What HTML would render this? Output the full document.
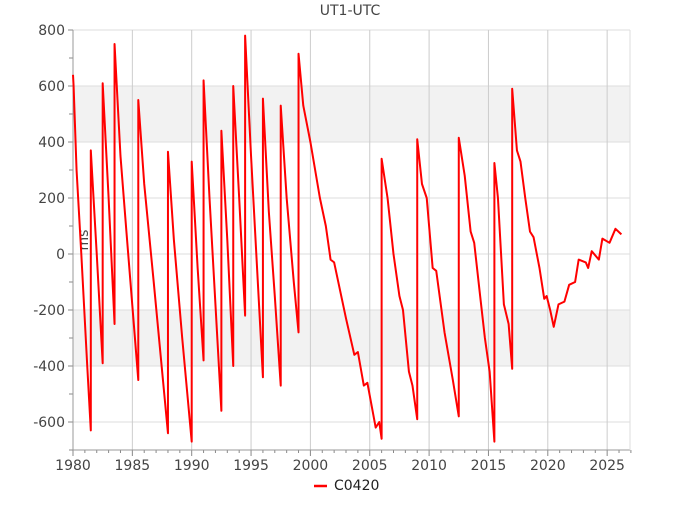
<!DOCTYPE html>
<html><head><meta charset="utf-8"><style>
body{margin:0;background:#fff;}
svg{font-family:"DejaVu Sans","Liberation Sans",sans-serif;}
</style></head><body>
<svg id="chart" width="700" height="500">
<text x="350" y="15" text-anchor="middle" font-size="14" fill="#444">UT1-UTC</text>
<g id="bands"></g><g id="grid"></g><g id="axes"></g>
<text transform="translate(88,240) rotate(-90)" text-anchor="middle" font-size="14" fill="#444">ms</text>
<g id="series"></g>
<g>
<line x1="314" y1="486" x2="327" y2="486" stroke="#f00" stroke-width="2.5"/>
<text x="334" y="490" font-size="14" fill="#222">C0420</text>
</g>
</svg>
<script>
const years=[1980.0,1980.05,1980.3,1980.7,1981.2,1981.5,1981.5,1982.0,1982.5,1982.5,1983.0,1983.5,1983.5,1984.0,1984.5,1985.5,1985.5,1986.0,1986.8,1988.0,1988.0,1988.5,1989.2,1990.0,1990.0,1990.5,1991.0,1991.0,1991.5,1992.5,1992.5,1993.0,1993.5,1993.5,1994.0,1994.5,1994.5,1995.0,1996.0,1996.0,1996.5,1997.0,1997.5,1997.5,1998.0,1998.6,1999.0,1999.0,1999.4,2000.0,2000.8,2001.3,2001.7,2002.0,2003.0,2003.7,2004.0,2004.5,2004.8,2005.5,2005.8,2006.0,2006.0,2006.5,2007.0,2007.5,2007.8,2008.3,2008.6,2009.0,2009.0,2009.4,2009.8,2010.3,2010.6,2011.3,2012.0,2012.5,2012.5,2013.0,2013.5,2013.8,2014.3,2014.7,2015.1,2015.5,2015.5,2015.8,2016.3,2016.7,2017.0,2017.0,2017.4,2017.7,2018.1,2018.5,2018.8,2019.3,2019.7,2019.9,2020.2,2020.5,2020.9,2021.4,2021.8,2022.3,2022.6,2023.2,2023.4,2023.7,2024.3,2024.6,2025.2,2025.7,2026.2];
const values=[640,600,300,0,-400,-630,370,0,-390,610,200,-250,750,350,80,-450,550,250,-100,-640,365,50,-300,-670,330,-50,-380,620,200,-560,440,50,-400,600,200,-220,780,350,-440,555,150,-150,-470,530,200,-100,-280,715,530,400,200,100,-20,-30,-230,-360,-350,-470,-460,-620,-600,-660,340,200,0,-150,-200,-420,-470,-590,410,250,200,-50,-60,-280,-450,-580,415,280,80,40,-150,-300,-420,-670,325,200,-180,-250,-410,590,370,330,200,80,60,-50,-160,-150,-200,-260,-180,-170,-110,-100,-20,-30,-50,10,-20,55,40,90,70];
const xTicks=[1980,1985,1990,1995,2000,2005,2010,2015,2020,2025];
const yTicks=[-600,-400,-200,0,200,400,600,800];
const X0=73,X1=630,Y0=30,Y1=450;
const xs=y=>X0+(y-1980)*11.87;
const ys=v=>Y0+(800-v)*0.28;
const NS="http://www.w3.org/2000/svg";
function mk(p,tag,at){const e=document.createElementNS(NS,tag);for(const k in at)e.setAttribute(k,at[k]);document.getElementById(p).appendChild(e);return e;}
[[400,600],[-400,-200]].forEach(b=>{const r=mk('bands','rect',{x:X0,y:ys(b[1]),width:X1-X0,height:ys(b[0])-ys(b[1]),fill:'#f2f2f2'});

});
yTicks.forEach(v=>{const l=mk('grid','line',{x1:X0,x2:X1,y1:ys(v),y2:ys(v),stroke:'#ddd'});


const t=mk('axes','text',{x:X0-8,y:ys(v)+5,'text-anchor':'end','font-size':14,fill:'#444'});t.textContent=v;


mk('axes','line',{x1:X0-5,x2:X0,y1:ys(v),y2:ys(v),stroke:'#888'});
mk('axes','line',{x1:X0-4,x2:X0,y1:ys(v-100),y2:ys(v-100),stroke:'#888'});});
xTicks.forEach(y=>{const l=mk('grid','line',{x1:xs(y),x2:xs(y),y1:Y0,y2:Y1,stroke:'#ccc'});


const t=mk('axes','text',{x:xs(y),y:Y1+20,'text-anchor':'middle','font-size':14,fill:'#444'});t.textContent=y;

});
for(let y=1980;y<=2027;y++)mk('axes','line',{x1:xs(y),x2:xs(y),y1:Y1,y2:Y1+(y%5?3:6),stroke:'#888'});
mk('axes','line',{x1:X0,x2:X1,y1:Y1,y2:Y1,stroke:'#999'});
mk('axes','line',{x1:X0,x2:X0,y1:Y0,y2:Y1,stroke:'#999'});
mk('axes','line',{x1:X1,x2:X1,y1:Y0,y2:Y1,stroke:'#ddd'});
const pl=mk('series','polyline',{points:years.map((y,i)=>xs(y)+','+ys(values[i])).join(' '),fill:'none',stroke:'#f00','stroke-width':2,'stroke-linejoin':'round'});


</script>
</body></html>
